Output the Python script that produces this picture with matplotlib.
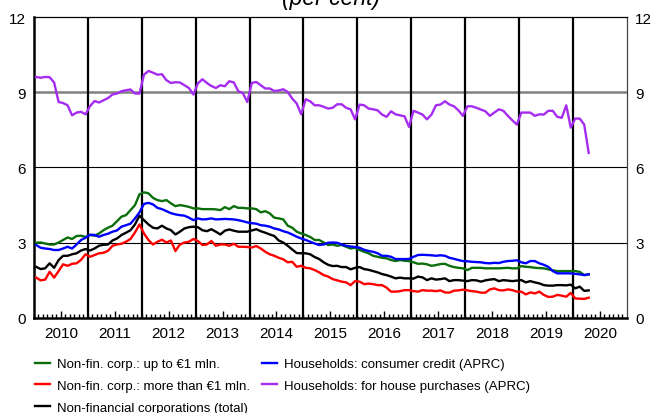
import numpy as np
import matplotlib.pyplot as plt

plt.rcParams['font.family'] = ['Liberation Sans', 'DejaVu Sans']

# monthly data, Jan 2010 - Apr 2020 (per cent)
years = list(range(2010, 2021))

nfc_small = [3.00, 3.01, 2.97, 2.93, 2.93, 3.01, 3.11, 3.21, 3.15, 3.27, 3.28, 3.23,
             3.31, 3.28, 3.37, 3.50, 3.60, 3.68, 3.86, 4.04, 4.10, 4.30, 4.50, 4.93,
             5.01, 4.97, 4.79, 4.70, 4.66, 4.70, 4.57, 4.46, 4.50, 4.47, 4.43, 4.37,
             4.37, 4.34, 4.34, 4.34, 4.33, 4.30, 4.42, 4.34, 4.46, 4.39, 4.39, 4.37,
             4.37, 4.34, 4.21, 4.26, 4.17, 4.00, 3.97, 3.93, 3.68, 3.60, 3.44, 3.37,
             3.31, 3.23, 3.11, 3.11, 3.01, 2.91, 2.93, 2.88, 2.91, 2.84, 2.77, 2.80,
             2.71, 2.64, 2.58, 2.48, 2.44, 2.40, 2.38, 2.31, 2.27, 2.31, 2.28, 2.27,
             2.22, 2.16, 2.17, 2.14, 2.08, 2.11, 2.15, 2.16, 2.08, 2.03, 2.00, 1.98,
             1.91, 2.00, 2.00, 2.00, 1.98, 1.98, 1.98, 1.98, 1.99, 2.00, 1.98, 1.98,
             2.07, 2.04, 2.03, 2.00, 1.99, 1.98, 1.94, 1.90, 1.87, 1.87, 1.87, 1.87,
             1.87, 1.84, 1.71, 1.74]

nfc_large = [1.61, 1.50, 1.53, 1.84, 1.61, 1.87, 2.14, 2.08, 2.16, 2.18, 2.32, 2.54,
             2.44, 2.51, 2.58, 2.60, 2.68, 2.88, 2.93, 2.96, 3.04, 3.15, 3.41, 3.73,
             3.37, 3.11, 2.93, 3.04, 3.12, 3.01, 3.09, 2.67, 2.93, 3.01, 3.04, 3.15,
             3.07, 2.91, 2.93, 3.07, 2.88, 2.93, 2.93, 2.88, 2.96, 2.84, 2.84, 2.83,
             2.81, 2.87, 2.77, 2.64, 2.54, 2.48, 2.40, 2.34, 2.22, 2.24, 2.04, 2.08,
             2.00, 1.98, 1.91, 1.82, 1.71, 1.65, 1.55, 1.50, 1.45, 1.42, 1.31, 1.47,
             1.45, 1.35, 1.37, 1.35, 1.31, 1.31, 1.21, 1.05, 1.05, 1.07, 1.11, 1.11,
             1.07, 1.05, 1.11, 1.09, 1.09, 1.07, 1.10, 1.02, 1.01, 1.09, 1.10, 1.13,
             1.10, 1.07, 1.05, 1.01, 1.01, 1.14, 1.18, 1.11, 1.10, 1.14, 1.11, 1.05,
             1.05, 0.94, 1.02, 0.98, 1.05, 0.92, 0.84, 0.85, 0.92, 0.89, 0.85, 1.00,
             0.78, 0.77, 0.76, 0.81]

nfc_total = [2.04, 1.95, 1.98, 2.18, 2.00, 2.31, 2.48, 2.48, 2.54, 2.58, 2.69, 2.75,
             2.69, 2.77, 2.88, 2.92, 2.93, 3.09, 3.17, 3.31, 3.40, 3.50, 3.73, 4.08,
             3.90, 3.73, 3.60, 3.57, 3.68, 3.57, 3.50, 3.33, 3.44, 3.57, 3.62, 3.64,
             3.62, 3.50, 3.46, 3.54, 3.44, 3.33, 3.48, 3.53, 3.48, 3.44, 3.44, 3.44,
             3.49, 3.54, 3.46, 3.40, 3.33, 3.27, 3.09, 3.01, 2.88, 2.73, 2.59, 2.58,
             2.58, 2.54, 2.43, 2.35, 2.22, 2.12, 2.07, 2.08, 2.03, 2.03, 1.94, 2.00,
             2.03, 1.95, 1.92, 1.87, 1.82, 1.75, 1.71, 1.65, 1.58, 1.61, 1.58, 1.58,
             1.57, 1.65, 1.62, 1.51, 1.58, 1.53, 1.55, 1.58, 1.47, 1.51, 1.51, 1.49,
             1.47, 1.51, 1.50, 1.45, 1.50, 1.53, 1.55, 1.47, 1.51, 1.49, 1.47, 1.49,
             1.51, 1.42, 1.47, 1.42, 1.38, 1.31, 1.29, 1.29, 1.31, 1.31, 1.30, 1.33,
             1.18, 1.25, 1.08, 1.10]

hh_consumer = [2.91, 2.80, 2.77, 2.75, 2.71, 2.71, 2.77, 2.84, 2.77, 2.93, 3.11, 3.20,
               3.32, 3.31, 3.24, 3.31, 3.36, 3.44, 3.49, 3.64, 3.70, 3.76, 3.97, 4.21,
               4.55, 4.59, 4.53, 4.39, 4.34, 4.26, 4.18, 4.13, 4.10, 4.08, 4.00, 3.90,
               3.97, 3.93, 3.94, 3.97, 3.93, 3.94, 3.95, 3.94, 3.93, 3.90, 3.86, 3.81,
               3.78, 3.76, 3.70, 3.68, 3.64, 3.57, 3.53, 3.46, 3.41, 3.33, 3.24, 3.17,
               3.11, 3.04, 2.97, 2.91, 2.93, 3.00, 3.01, 3.00, 2.93, 2.88, 2.85, 2.83,
               2.80, 2.72, 2.67, 2.64, 2.58, 2.48, 2.48, 2.44, 2.35, 2.35, 2.35, 2.35,
               2.44, 2.51, 2.52, 2.51, 2.50, 2.48, 2.50, 2.48, 2.40, 2.36, 2.31, 2.27,
               2.26, 2.24, 2.23, 2.22, 2.19, 2.18, 2.20, 2.19, 2.24, 2.27, 2.28, 2.30,
               2.22, 2.18, 2.27, 2.27, 2.18, 2.12, 2.04, 1.87, 1.78, 1.78, 1.78, 1.78,
               1.76, 1.74, 1.71, 1.74]

hh_house = [9.61, 9.58, 9.61, 9.60, 9.39, 8.61, 8.57, 8.48, 8.08, 8.19, 8.22, 8.12,
            8.45, 8.65, 8.59, 8.68, 8.77, 8.91, 8.95, 9.04, 9.08, 9.11, 8.95, 8.95,
            9.70, 9.85, 9.78, 9.70, 9.72, 9.48, 9.37, 9.40, 9.39, 9.28, 9.17, 8.91,
            9.35, 9.52, 9.37, 9.25, 9.17, 9.28, 9.24, 9.44, 9.39, 9.04, 8.97, 8.61,
            9.37, 9.41, 9.28, 9.15, 9.15, 9.05, 9.07, 9.12, 9.01, 8.75, 8.55, 8.12,
            8.72, 8.64, 8.48, 8.48, 8.42, 8.35, 8.38, 8.52, 8.52, 8.38, 8.32, 7.92,
            8.51, 8.48, 8.35, 8.32, 8.28, 8.11, 8.02, 8.24, 8.12, 8.08, 8.04, 7.62,
            8.26, 8.19, 8.11, 7.92, 8.11, 8.48, 8.51, 8.64, 8.51, 8.44, 8.28, 8.06,
            8.44, 8.44, 8.38, 8.31, 8.24, 8.06, 8.19, 8.32, 8.26, 8.06, 7.88, 7.71,
            8.19, 8.19, 8.19, 8.06, 8.12, 8.11, 8.26, 8.26, 8.02, 7.98, 8.48, 7.59,
            7.95, 7.95, 7.71, 6.58]

labels = ['Non-fin. corp.: up to €1 mln.',
          'Non-fin. corp.: more than €1 mln.',
          'Non-financial corporations (total)',
          'Households: consumer credit (APRC)',
          'Households: for house purchases (APRC)']
colors = ['#0b6e0b', '#ff0000', '#000000', '#0000ff', '#a52cf0']
series = [nfc_small, nfc_large, nfc_total, hh_consumer, hh_house]

# mid-month positions in decimal years
x = years[0] + (np.arange(len(hh_house)) + 0.5) / 12

fig = plt.figure(figsize=(6.52, 4.14), dpi=100)
ax = fig.add_axes([0.052, 0.2295, 0.9095, 0.727])

# horizontal grid and year separators
for yv in [3, 6]:
    ax.axhline(yv, color='black', lw=0.8, zorder=1)
ax.axhline(9, color='#808080', lw=1.8, zorder=1)
for yr in years[1:]:
    ax.axvline(yr, color='black', lw=1.6, zorder=1)

handles = []
for vals, col, lab in zip(series, colors, labels):
    h, = ax.plot(x, vals, color=col, lw=1.7, label=lab, zorder=3)
    handles.append(h)

ax.set_xlim(years[0], years[-1] + 1)
ax.set_ylim(0, 12)
ax.set_xticks([yr + 0.5 for yr in years])
ax.set_xticklabels([str(yr) for yr in years])
ax.set_xticks(np.arange(years[0], years[-1] + 1, 1 / 12), minor=True)
ax.tick_params(axis='x', which='major', direction='in', length=5, width=1, pad=6, labelsize=11)
ax.tick_params(axis='x', which='minor', direction='in', length=3, width=1)
ax.set_yticks([0, 3, 6, 9, 12])
ax.tick_params(axis='y', length=0, labelleft=True, labelright=True, labelsize=11, pad=6)

for side in ['left', 'bottom']:
    ax.spines[side].set_linewidth(1.8)
ax.spines['top'].set_linewidth(0.9)
ax.spines['right'].set_linewidth(0.9)
ax.spines['right'].set_color('#444444')

# title sits mostly above the image edge, as in the original
fig.text(0.508, 1 - 4.5 / 414, '(per cent)', style='italic', fontsize=16.5,
         ha='center', va='baseline')

fig.legend(handles, labels, ncol=2, loc='upper left',
           bbox_to_anchor=(35 / 652, 1 - 359 / 414), frameon=False, fontsize=9.5,
           handlelength=1.14, handletextpad=0.5, columnspacing=0.95,
           labelspacing=0.72, borderpad=0, borderaxespad=0)

fig.savefig('out.png', dpi=100)
